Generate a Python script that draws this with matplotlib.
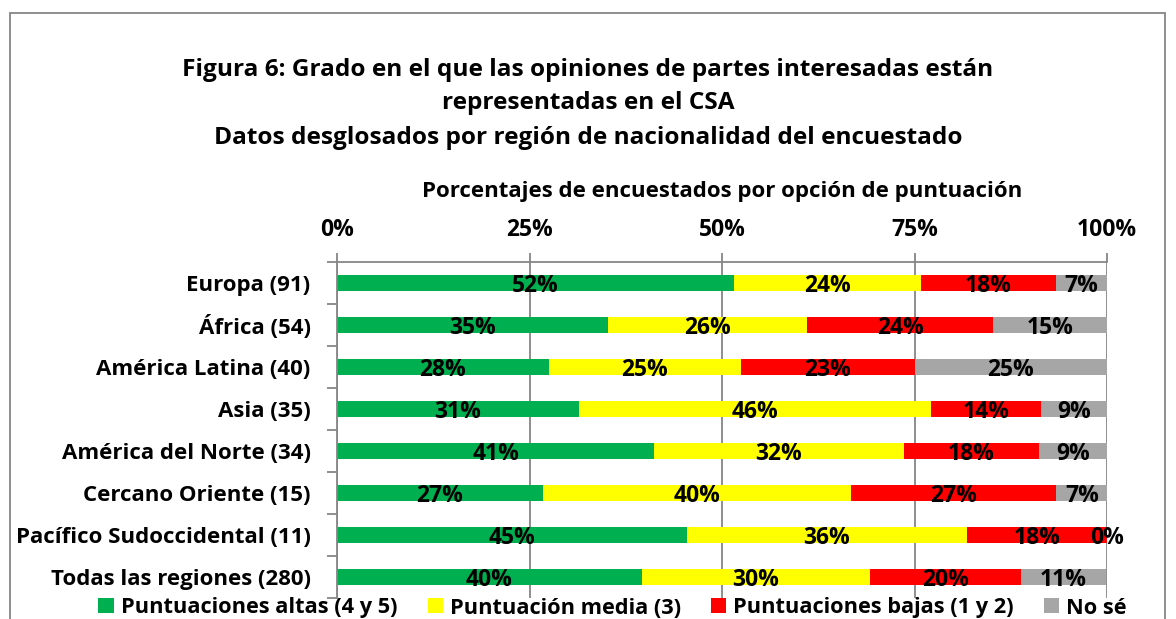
import numpy as np
import matplotlib.pyplot as plt
from matplotlib.patches import Rectangle

plt.rcParams['font.family'] = ['Open Sans', 'DejaVu Sans']
plt.rcParams['font.weight'] = 'bold'

# Datos (porcentaje de encuestados)
regiones = ["Europa (91)", "África (54)", "América Latina (40)", "Asia (35)",
            "América del Norte (34)", "Cercano Oriente (15)",
            "Pacífico Sudoccidental (11)", "Todas las regiones (280)"]
altas = [51.6, 35.2, 27.5, 31.4, 41.2, 26.7, 45.4, 39.6]
media = [24.2, 25.9, 25.0, 45.7, 32.4, 40.0, 36.4, 29.6]
bajas = [17.6, 24.1, 22.5, 14.3, 17.6, 26.7, 18.2, 19.6]
no_se = [6.6, 14.8, 25.0, 8.6, 8.8, 6.7, 0.0, 11.1]

series = [altas, media, bajas, no_se]
nombres = ["Puntuaciones altas (4 y 5)", "Puntuación media (3)",
           "Puntuaciones bajas (1 y 2)", "No sé"]
colores = ["#00B050", "#FFFF00", "#FF0000", "#A6A6A6"]
gris = '#868686'

fig = plt.figure(figsize=(11.76, 6.19), dpi=100)
ax = fig.add_axes([337 / 1176, 21 / 619, 770 / 1176, 336 / 619])

y = np.arange(len(regiones))
left = np.zeros(len(regiones))
handles = []
for vals, nombre, col in zip(series, nombres, colores):
    vals = np.array(vals)
    b = ax.barh(y, vals, left=left, height=0.38, color=col, label=nombre, zorder=2)
    handles.append(b)
    for yi, (l, v) in enumerate(zip(left, vals)):
        ax.text(l + v / 2, yi + 0.08, f"{int(v + 0.5)}%", ha='center', va='center',
                fontsize=16.5, fontweight='bold', zorder=3)
    left += vals

ax.set_xlim(0, 100)
ax.set_ylim(len(regiones) - 0.5, -0.5)
ax.set_yticks(y)
ax.set_yticklabels(regiones, fontsize=16, fontweight='bold')
ax.set_yticks(np.arange(len(regiones) + 1) - 0.5, minor=True)
ax.tick_params(axis='y', which='major', length=0, pad=19)
ax.tick_params(axis='y', which='minor', length=7.5, color=gris, width=1.3)

ax.xaxis.tick_top()
ax.xaxis.set_label_position('top')
ax.set_xticks([0, 25, 50, 75, 100])
ax.set_xticklabels(["0%", "25%", "50%", "75%", "100%"], fontsize=16.5, fontweight='bold')
ax.tick_params(axis='x', length=6.5, width=1.3, color=gris, pad=8)
ax.set_xlabel("Porcentajes de encuestados por opción de puntuación",
              fontsize=16, fontweight='bold', labelpad=15)
ax.grid(axis='x', color=gris, linewidth=1.3, zorder=0)

for s in ['right', 'bottom']:
    ax.spines[s].set_visible(False)
for s in ['top', 'left']:
    ax.spines[s].set_color(gris)
    ax.spines[s].set_linewidth(1.3)

fig.text(0.5, 1 - 70 / 619, "Figura 6: Grado en el que las opiniones de partes interesadas están",
         ha='center', va='center', fontsize=17.6, fontweight='bold')
fig.text(0.5, 1 - 103 / 619, "representadas en el CSA",
         ha='center', va='center', fontsize=17.6, fontweight='bold')
fig.text(0.5, 1 - 138 / 619, "Datos desglosados por región de nacionalidad del encuestado",
         ha='center', va='center', fontsize=17.6, fontweight='bold')

fig.legend(handles=handles, loc='center', bbox_to_anchor=(0.521, 1 - 608 / 619), ncol=4,
           frameon=False, fontsize=15.7, handlelength=0.69, handleheight=0.69,
           handletextpad=0.32, columnspacing=1.4)

fig.patches.append(Rectangle((10 / 1176, -0.1), 1155 / 1176, 1.1 - 13 / 619,
                             transform=fig.transFigure, fill=False,
                             edgecolor=gris, linewidth=1.3))

fig.savefig("out.png", dpi=100)
